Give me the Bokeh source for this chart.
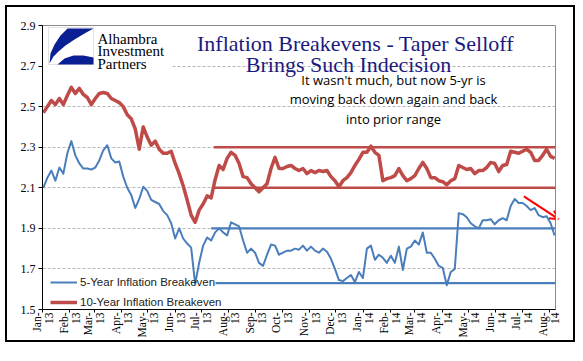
import math
import pandas as pd
from bokeh.plotting import figure
from bokeh.layouts import column
from bokeh.models import (Range1d, FixedTicker, Label, Arrow, OpenHead, Legend,
                          LegendItem, PolyAnnotation, BoxAnnotation)
from bokeh.embed import file_html
from bokeh.resources import INLINE

# ---------------- data ----------------
start_date = "2013-01-02"
end_date = "2014-08-07"

be10 = [2.47, 2.50, 2.53, 2.51, 2.54, 2.51, 2.555, 2.595, 2.565, 2.59,
        2.56, 2.545, 2.51, 2.54, 2.565, 2.57, 2.565, 2.54, 2.53, 2.52,
        2.50, 2.46, 2.44, 2.39, 2.29, 2.40, 2.35, 2.31, 2.33, 2.29,
        2.27, 2.27, 2.28, 2.22, 2.17, 2.11, 2.04, 1.965, 1.93, 1.99,
        2.02, 2.06, 2.05, 2.14, 2.21, 2.19, 2.245, 2.275, 2.26, 2.22,
        2.155, 2.15, 2.12, 2.10, 2.08, 2.10, 2.12, 2.195, 2.25, 2.195,
        2.195, 2.205, 2.21, 2.195, 2.185, 2.195, 2.17, 2.185, 2.175, 2.185,
        2.18, 2.185, 2.155, 2.135, 2.105, 2.135, 2.15, 2.175, 2.21, 2.24,
        2.275, 2.275, 2.305, 2.275, 2.26, 2.135, 2.145, 2.15, 2.16, 2.195,
        2.16, 2.135, 2.145, 2.16, 2.195, 2.225, 2.195, 2.15, 2.15, 2.135,
        2.13, 2.115, 2.135, 2.145, 2.21, 2.20, 2.19, 2.195, 2.17, 2.185,
        2.185, 2.20, 2.225, 2.22, 2.18, 2.21, 2.215, 2.28, 2.275, 2.27,
        2.28, 2.29, 2.275, 2.235, 2.235, 2.26, 2.29, 2.255, 2.245]

be5 = [2.10, 2.15, 2.185, 2.135, 2.20, 2.17, 2.27, 2.33, 2.26, 2.22,
       2.195, 2.195, 2.19, 2.20, 2.235, 2.285, 2.31, 2.245, 2.225, 2.23,
       2.155, 2.10, 2.065, 2.00, 2.045, 2.105, 2.085, 2.04, 2.03, 2.02,
       1.985, 1.965, 1.925, 1.85, 1.90, 1.85, 1.825, 1.805, 1.625, 1.73,
       1.815, 1.855, 1.84, 1.88, 1.90, 1.88, 1.865, 1.93, 1.92, 1.91,
       1.84, 1.78, 1.80, 1.78, 1.73, 1.715, 1.77, 1.82, 1.815, 1.77,
       1.78, 1.79, 1.79, 1.80, 1.795, 1.815, 1.79, 1.81, 1.79, 1.78,
       1.80, 1.785, 1.75, 1.70, 1.645, 1.64, 1.655, 1.67, 1.635, 1.685,
       1.655, 1.80, 1.815, 1.745, 1.77, 1.755, 1.73, 1.765, 1.73, 1.81,
       1.695, 1.80, 1.81, 1.84, 1.82, 1.88, 1.78, 1.78, 1.75, 1.715,
       1.705, 1.62, 1.685, 1.70, 1.975, 1.97, 1.955, 1.925, 1.91, 1.90,
       1.94, 1.94, 1.945, 1.92, 1.94, 1.95, 1.94, 2.01, 2.045, 2.025,
       2.025, 2.01, 1.99, 2.00, 1.965, 1.955, 1.96, 1.925, 1.865]

# horizontal range lines (level, start date)
range10_levels = [2.30, 2.10]
range10_start = "2013-07-15"
range5_levels = [1.90, 1.63]
range5_start = ["2013-07-12", "2013-07-17"]

# red arrow (start, end)
arrow_start = ("2014-07-03", 2.058)
arrow_end = ("2014-08-12", 1.944)

y_ticks = [1.5, 1.7, 1.9, 2.1, 2.3, 2.5, 2.7, 2.9]
month_starts = pd.date_range("2013-01-01", "2014-08-01", freq="MS")
month_labels = [f"{d.strftime('%b')}-\n{d.strftime('%y')}" for d in month_starts]

title_lines = ["Inflation Breakevens - Taper Selloff", "Brings Such Indecision"]
note_lines = ["It wasn't much, but now 5-yr is",
              "moving back down again and back",
              "into prior range"]
logo_lines = ["Alhambra", "Investment", "Partners"]

# ---------------- helpers ----------------
def ms(d):
    return pd.Timestamp(d).value / 1e6

dates = pd.date_range(start_date, end_date, periods=len(be10))
X0, X1 = ms("2013-01-01"), ms("2014-08-08")
Y0, Y1 = 1.5, 2.9
FL, FR, FT, FB = 42, 555, 25, 309  # frame in page pixels


def px2x(px):
    return X0 + (px - FL) / (FR - FL) * (X1 - X0)


def py2y(py):
    return Y1 - (py - FT) / (FB - FT) * (Y1 - Y0)


BLUE = "#4a7ebb"
RED = "#be4b48"

# figure sits inside a 2px black border starting at page (5,5)
p = figure(width=566, height=333, x_axis_type="datetime",
           x_range=Range1d(X0, X1), y_range=Range1d(Y0, Y1),
           output_backend="svg", toolbar_location=None,
           min_border_left=35, min_border_right=18,
           min_border_top=18, min_border_bottom=31)
p.background_fill_color = "white"
p.border_fill_color = "white"
p.outline_line_color = "#8a8a8a"
p.outline_line_width = 1

# axes
p.yaxis.ticker = FixedTicker(ticks=y_ticks)
p.yaxis.major_label_overrides = {t: f"{t:.1f}" for t in y_ticks}
p.xaxis.ticker = FixedTicker(ticks=[ms(d) for d in month_starts])
p.xaxis.major_label_overrides = {ms(d): lab for d, lab in zip(month_starts, month_labels)}
p.xaxis.major_label_orientation = math.pi / 2
for ax in (p.xaxis, p.yaxis):
    ax.axis_line_color = "black"
    ax.major_tick_line_color = "black"
    ax.major_tick_out = 4
    ax.major_tick_in = 0
    ax.minor_tick_line_color = None
    ax.major_label_text_font = "Liberation Serif"
    ax.major_label_text_font_size = "12px"
    ax.major_label_text_color = "black"
    ax.major_label_standoff = 3
p.xaxis.major_tick_out = 3
p.xaxis.major_label_standoff = 0
p.xaxis.major_label_text_font_size = "11.5px"
p.xaxis.major_label_text_line_height = 1.0

p.xgrid.grid_line_color = None
p.ygrid.grid_line_color = "#b5b5b5"
p.ygrid.grid_line_dash = "3 2"
p.ygrid.grid_line_width = 1

# range lines
for lv in range10_levels:
    p.line([ms(range10_start), X1], [lv, lv], line_color=RED, line_width=2.5)
for lv, st in zip(range5_levels, range5_start):
    p.line([ms(st), X1], [lv, lv], line_color=BLUE, line_width=2.2)

# series
r5 = p.line(dates, be5, line_color=BLUE, line_width=2, line_join="round")
r10 = p.line(dates, be10, line_color=RED, line_width=3.5, line_join="round")

# arrow
p.add_layout(Arrow(end=OpenHead(size=9, line_color="red", line_width=2),
                   x_start=ms(arrow_start[0]), y_start=arrow_start[1],
                   x_end=ms(arrow_end[0]), y_end=arrow_end[1],
                   line_color="red", line_width=2))

# logo block
p.add_layout(BoxAnnotation(left=px2x(42.5), right=px2x(172), top=py2y(25.5), bottom=py2y(68),
                           fill_color="white", fill_alpha=1, line_color=None))
p.add_layout(BoxAnnotation(left=px2x(48), right=px2x(93), top=py2y(27), bottom=py2y(64),
                           fill_color="white", fill_alpha=1, line_color="#a0a0a0", line_width=1))
swoosh1 = [(67, 28), (93, 28), (84, 33), (74, 39), (65, 45), (58, 51), (53, 56), (49, 63),
           (50, 53), (54, 44), (60, 35)]
swoosh2 = [(57, 64), (64, 58), (73, 55), (83, 55), (93, 57), (93, 64)]
for sw in (swoosh1, swoosh2):
    p.add_layout(PolyAnnotation(xs=[px2x(a) for a, b in sw], ys=[py2y(b) for a, b in sw],
                                fill_color="#0b1f95", fill_alpha=1, line_color=None))
for txt, by in zip(logo_lines, [38, 50.5, 63]):
    p.add_layout(Label(x=px2x(97), y=py2y(by), text=txt, text_font="Liberation Serif",
                       text_font_size="15px", text_color="black", text_baseline="alphabetic"))

# title
for txt, by, cx in zip(title_lines, [43, 64], [355, 348]):
    p.add_layout(Label(x=px2x(cx), y=py2y(by), text=txt, text_font="Liberation Serif",
                       text_font_size="22px", text_color="#1a1a7e", text_align="center",
                       text_baseline="alphabetic"))

# note
for txt, cy in zip(note_lines, [79, 98.5, 118]):
    p.add_layout(Label(x=px2x(393), y=py2y(cy), text=txt, text_font="Open Sans",
                       text_font_size="13px", text_color="black", text_align="center",
                       text_baseline="middle"))

legend = Legend(items=[LegendItem(label="5-Year Inflation Breakeven", renderers=[r5]),
                       LegendItem(label="10-Year Inflation Breakeven", renderers=[r10])],
                location=(8, -3), background_fill_alpha=0, border_line_color=None,
                label_text_font="Liberation Sans", label_text_font_size="11.5px",
                label_text_color="#222222", glyph_width=27, glyph_height=20,
                label_height=20, spacing=0, padding=0, margin=0, label_standoff=3)
p.add_layout(legend)

layout = column(p, margin=(5, 0, 0, 5),
                styles={"border": "2px solid black", "width": "570px", "height": "337px",
                        "box-sizing": "border-box"})

open("out.html", "w").write(file_html(layout, INLINE))
